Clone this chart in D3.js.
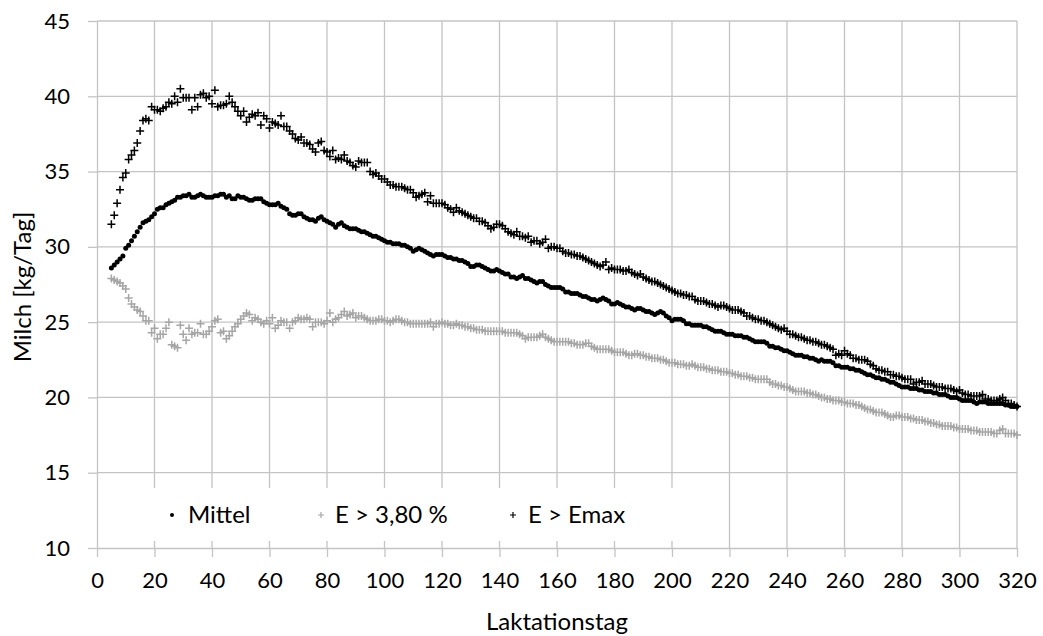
<!DOCTYPE html>
<html><head><meta charset="utf-8">
<script src="https://cdn.jsdelivr.net/npm/d3@7"></script>
<style>body{margin:0;background:#fff}svg{display:block}text{font-family:Lato,"Open Sans",sans-serif;fill:#000}</style>
</head><body>
<script>
const dayStart = 5, dayEnd = 320;
const xTicks = [0,20,40,60,80,100,120,140,160,180,200,220,240,260,280,300,320];
const yTicks = [10,15,20,25,30,35,40,45];
const seriesNames = ["Mittel","E > 3,80 %","E > Emax"];

const mittel = [
28.6,28.8,29.0,29.2,29.4,29.9,30.1,30.4,30.7,31.0,
31.3,31.6,31.7,31.8,32.0,32.2,32.5,32.6,32.6,32.8,
32.9,33.0,33.1,33.3,33.3,33.4,33.4,33.5,33.3,33.3,
33.4,33.5,33.4,33.3,33.3,33.3,33.4,33.4,33.5,33.5,
33.3,33.4,33.2,33.2,33.4,33.3,33.3,33.2,33.1,33.1,
33.2,33.2,33.2,33.0,32.9,32.8,32.8,32.8,32.9,32.7,
32.6,32.5,32.2,32.1,32.1,32.2,32.2,32.0,31.9,31.8,
31.8,31.7,31.9,32.0,31.8,31.7,31.6,31.5,31.3,31.5,
31.6,31.4,31.3,31.2,31.2,31.2,31.1,31.0,31.0,30.9,
30.8,30.7,30.7,30.6,30.5,30.4,30.3,30.3,30.2,30.2,
30.2,30.1,30.1,30.0,29.9,29.7,29.8,29.9,29.8,29.7,
29.6,29.5,29.4,29.5,29.5,29.5,29.4,29.3,29.3,29.2,
29.2,29.1,29.1,29.0,28.9,28.7,28.7,28.8,28.8,28.7,
28.6,28.5,28.4,28.4,28.5,28.4,28.3,28.2,28.2,28.0,
28.0,27.9,28.0,28.1,27.9,27.9,27.8,27.7,27.6,27.7,
27.7,27.5,27.4,27.3,27.3,27.3,27.3,27.2,27.0,27.0,
26.9,26.9,26.9,26.8,26.7,26.7,26.6,26.5,26.5,26.4,
26.5,26.6,26.5,26.4,26.2,26.2,26.3,26.2,26.1,26.0,
26.0,25.9,25.8,25.9,25.9,25.8,25.7,25.7,25.6,25.5,
25.6,25.7,25.6,25.4,25.3,25.1,25.2,25.2,25.2,25.1,
24.9,24.9,24.8,24.8,24.8,24.8,24.7,24.7,24.6,24.5,
24.4,24.4,24.4,24.3,24.2,24.2,24.2,24.1,24.1,24.1,
24.0,24.0,23.9,23.8,23.7,23.7,23.7,23.7,23.6,23.4,
23.4,23.3,23.3,23.2,23.1,23.1,23.0,22.9,22.8,22.8,
22.8,22.7,22.7,22.6,22.6,22.5,22.4,22.5,22.4,22.4,
22.4,22.3,22.1,22.1,22.0,22.0,22.0,21.9,21.9,21.8,
21.8,21.7,21.6,21.5,21.5,21.4,21.3,21.3,21.2,21.2,
21.1,21.0,21.0,20.9,20.8,20.7,20.7,20.7,20.6,20.6,
20.6,20.5,20.5,20.4,20.4,20.4,20.3,20.3,20.2,20.2,
20.2,20.1,20.0,20.0,20.0,19.9,19.8,19.8,19.8,19.8,
19.7,19.6,19.7,19.7,19.7,19.6,19.6,19.6,19.6,19.6,
19.6,19.5,19.5,19.4,19.4,19.4];

const eHigh = [
27.9,27.8,27.7,27.6,27.4,27.2,26.6,26.2,26.0,25.8,
25.7,25.4,25.1,25.1,24.3,24.6,23.9,24.2,24.2,24.6,
25.0,23.5,23.4,23.3,24.8,24.2,23.8,24.6,24.2,24.3,
24.3,24.9,24.2,24.2,24.4,24.7,25.1,25.2,24.3,24.4,
23.9,24.1,24.4,24.7,24.9,25.2,25.4,25.6,25.5,25.1,
25.3,25.2,25.0,24.9,25.1,24.9,25.3,24.6,24.8,25.1,
25.0,25.0,24.6,25.0,25.1,25.3,25.2,25.2,25.3,25.2,
24.7,25.0,25.0,25.0,24.9,25.1,25.6,25.0,25.2,25.3,
25.5,25.7,25.4,25.5,25.6,25.3,25.4,25.4,25.3,25.2,
25.1,25.1,25.1,25.2,25.2,25.1,25.1,25.0,25.1,25.2,
25.2,25.1,25.0,25.0,24.9,24.9,24.9,24.9,24.9,24.9,
24.9,25.0,24.7,24.9,24.9,25.0,24.9,24.9,24.8,24.8,
24.9,24.8,24.8,24.7,24.7,24.6,24.6,24.5,24.5,24.5,
24.4,24.4,24.4,24.4,24.4,24.4,24.4,24.3,24.3,24.3,
24.3,24.3,24.2,24.1,23.9,24.0,24.0,24.0,24.0,24.1,
24.2,24.0,23.9,23.8,23.7,23.7,23.7,23.7,23.7,23.7,
23.6,23.6,23.5,23.5,23.5,23.6,23.6,23.4,23.3,23.2,
23.2,23.2,23.2,23.2,23.1,23.0,23.0,23.0,23.0,22.9,
22.8,22.8,22.9,22.9,22.8,22.8,22.7,22.7,22.6,22.6,
22.6,22.5,22.5,22.4,22.3,22.3,22.3,22.2,22.2,22.2,
22.1,22.1,22.2,22.1,22.0,22.0,22.0,21.9,21.9,21.8,
21.8,21.8,21.7,21.7,21.7,21.6,21.6,21.5,21.5,21.4,
21.4,21.4,21.3,21.3,21.2,21.2,21.2,21.2,21.2,21.0,
20.9,20.9,20.8,20.8,20.7,20.7,20.6,20.5,20.4,20.4,
20.4,20.4,20.3,20.3,20.2,20.2,20.1,20.0,20.0,19.9,
19.9,19.8,19.8,19.8,19.7,19.7,19.6,19.6,19.6,19.5,
19.5,19.4,19.3,19.2,19.2,19.1,19.0,19.0,19.0,18.9,
18.8,18.7,18.7,18.8,18.8,18.7,18.7,18.7,18.6,18.6,
18.5,18.5,18.5,18.4,18.4,18.3,18.3,18.2,18.2,18.1,
18.1,18.1,18.1,18.0,18.0,17.9,17.9,17.9,17.9,17.8,
17.8,17.8,17.7,17.7,17.7,17.7,17.7,17.6,17.6,17.8,
17.9,17.6,17.6,17.6,17.6,17.5];

const eMax = [
31.5,32.1,32.9,33.8,34.6,34.9,35.8,36.1,36.4,36.9,
37.7,38.4,38.5,38.4,39.3,39.1,39.1,39.0,39.2,39.3,
39.6,39.5,40.0,39.6,40.5,39.9,39.9,39.9,39.1,39.9,
39.3,40.1,40.2,39.9,40.0,39.5,40.4,39.3,39.4,39.4,
39.5,40.0,39.6,39.3,39.0,38.7,39.0,38.3,38.6,38.8,
38.7,38.9,38.1,38.7,38.5,37.9,38.3,38.2,38.1,38.7,
38.0,38.0,37.7,37.5,37.2,37.1,37.3,36.9,36.9,36.8,
36.5,36.3,36.9,37.0,36.4,36.3,36.0,36.4,35.8,35.9,
35.8,36.1,35.7,35.6,35.4,35.3,35.7,35.6,35.6,35.6,
35.0,34.8,34.9,34.7,34.5,34.5,34.3,34.1,34.1,34.0,
34.0,34.0,33.9,33.8,33.8,33.6,33.3,33.4,33.5,33.6,
33.0,33.4,32.9,32.9,32.9,32.9,32.8,32.6,32.5,32.3,
32.6,32.4,32.3,32.2,32.1,32.0,31.9,31.9,31.7,31.7,
31.6,31.4,31.2,31.3,31.5,31.5,31.4,31.2,31.0,30.9,
30.8,31.0,30.7,30.7,30.6,30.7,30.3,30.4,30.4,30.2,
30.3,30.5,29.9,30.0,30.0,29.9,29.9,29.7,29.6,29.6,
29.5,29.5,29.4,29.4,29.3,29.2,29.1,29.0,28.9,28.8,
28.7,28.8,29.0,28.5,28.6,28.5,28.5,28.5,28.4,28.4,
28.5,28.3,28.2,28.1,28.2,28.0,27.9,27.8,27.7,27.7,
27.6,27.5,27.4,27.3,27.2,27.1,27.0,26.9,26.9,26.8,
26.8,26.7,26.7,26.5,26.4,26.4,26.4,26.3,26.2,26.2,
26.1,26.0,26.1,26.1,26.0,25.9,25.8,25.8,25.8,25.7,
25.6,25.4,25.4,25.3,25.2,25.2,25.1,25.1,25.0,24.9,
24.8,24.7,24.6,24.5,24.6,24.4,24.2,24.2,24.1,24.0,
24.0,23.9,23.8,23.8,23.7,23.7,23.6,23.5,23.5,23.4,
23.3,23.2,22.8,22.9,22.8,23.1,22.9,22.8,22.6,22.6,
22.5,22.5,22.5,22.4,22.2,22.1,21.9,21.8,21.8,21.7,
21.7,21.5,21.5,21.4,21.4,21.3,21.2,21.2,21.2,20.9,
21.0,21.0,21.1,20.9,20.9,20.9,20.8,20.7,20.7,20.7,
20.6,20.6,20.6,20.5,20.4,20.5,20.3,20.2,20.2,20.1,
20.1,20.1,20.1,20.2,19.9,19.9,19.8,19.8,19.8,19.9,
20.0,19.8,19.6,19.6,19.5,19.4];

const W = 1043, H = 636;
const svg = d3.select("body").append("svg").attr("width", W).attr("height", H);
const x = d3.scaleLinear().domain([0, 320]).range([97, 1017]);
const y = d3.scaleLinear().domain([10, 45]).range([548, 21]);
const gridColor = "#c4c4c4";
const days = d3.range(dayStart, dayEnd + 1);

// gridlines
const grid = svg.append("g");
grid.selectAll(".gx").data(xTicks.filter(t => t > 0)).join("line")
  .attr("x1", d => x(d)).attr("x2", d => x(d)).attr("y1", y(45)).attr("y2", y(10))
  .attr("stroke", gridColor).attr("stroke-width", 1.3);
grid.selectAll(".gy").data(yTicks.filter(t => t > 10)).join("line")
  .attr("x1", x(0)).attr("x2", x(320)).attr("y1", d => y(d)).attr("y2", d => y(d))
  .attr("stroke", gridColor).attr("stroke-width", 1.3);

// axes
const fs = 22;
const xAxis = svg.append("g").attr("transform", `translate(0,${y(10)})`)
  .call(d3.axisBottom(x).tickValues(xTicks).tickSize(9).tickPadding(15).tickSizeOuter(0));
const yAxis = svg.append("g").attr("transform", `translate(${x(0)},0)`)
  .call(d3.axisLeft(y).tickValues(yTicks).tickSize(9).tickPadding(18).tickSizeOuter(0));
[xAxis, yAxis].forEach(a => {
  a.select(".domain").attr("stroke", gridColor).attr("stroke-width", 1.3);
  a.selectAll(".tick line").attr("stroke", gridColor).attr("stroke-width", 1.3);
  a.selectAll(".tick text").attr("font-size", fs).attr("font-family", "Lato").attr("fill", "#000");
});

// legend box (white background)
const lg = svg.append("g");
lg.append("rect").attr("x", 100).attr("y", 488).attr("width", 590).attr("height", 53).attr("fill", "#fff");

// data markers
const plus = (cx, cy, s) => `M${cx - s},${cy}H${cx + s}M${cx},${cy - s}V${cy + s}`;
svg.append("g").selectAll("circle").data(mittel).join("circle")
  .attr("cx", (d, i) => x(days[i])).attr("cy", d => y(d)).attr("r", 2.5).attr("fill", "#000");
svg.append("path").attr("d", eHigh.map((d, i) => plus(x(days[i]), y(d), 4)).join(""))
  .attr("stroke", "#a6a6a6").attr("stroke-width", 1.5).attr("fill", "none");
svg.append("path").attr("d", eMax.map((d, i) => plus(x(days[i]), y(d), 4)).join(""))
  .attr("stroke", "#000").attr("stroke-width", 1.5).attr("fill", "none");

// legend entries
const ly = 515;
lg.append("circle").attr("cx", 172).attr("cy", ly).attr("r", 2).attr("fill", "#000");
lg.append("text").attr("x", 188).attr("y", ly).attr("dy", "0.35em").attr("font-size", 24).text(seriesNames[0]);
lg.append("path").attr("d", plus(321, ly, 3)).attr("stroke", "#a6a6a6").attr("stroke-width", 1.2);
lg.append("text").attr("x", 335).attr("y", ly).attr("dy", "0.35em").attr("font-size", 24).text(seriesNames[1]);
lg.append("path").attr("d", plus(513, ly, 3)).attr("stroke", "#000").attr("stroke-width", 1.2);
lg.append("text").attr("x", 528).attr("y", ly).attr("dy", "0.35em").attr("font-size", 24).text(seriesNames[2]);

// axis titles
svg.append("text").attr("x", 557).attr("y", 630).attr("text-anchor", "middle").attr("font-size", 24).text("Laktationstag");
svg.append("text").attr("transform", `translate(31,287) rotate(-90)`).attr("text-anchor", "middle").attr("font-size", 24).text("Milch [kg/Tag]");
</script>
</body></html>
